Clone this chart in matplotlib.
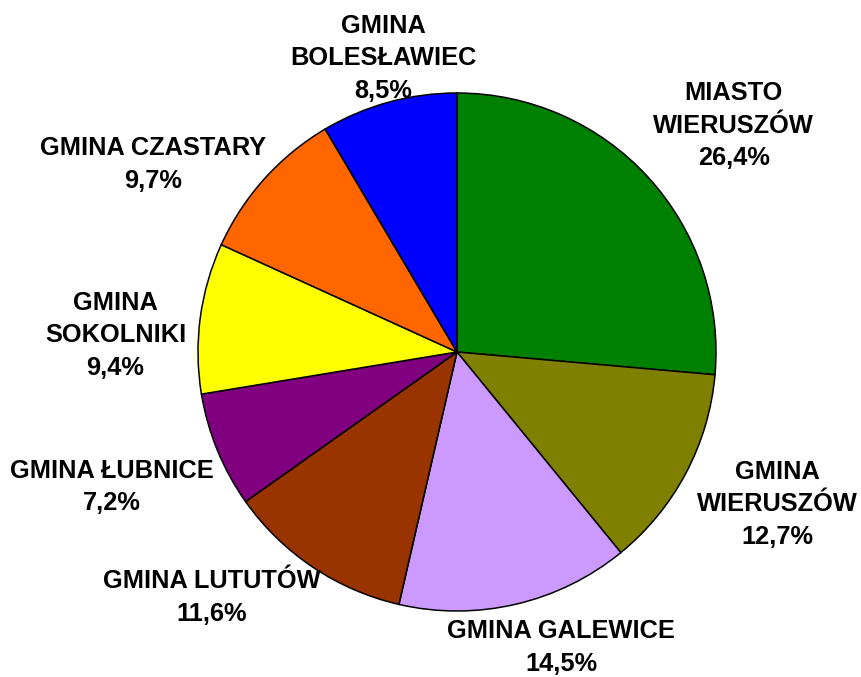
import numpy as np
import matplotlib
matplotlib.use("Agg")
import matplotlib.pyplot as plt

categories = ["MIASTO\nWIERUSZÓW", "GMINA\nWIERUSZÓW", "GMINA GALEWICE", "GMINA LUTUTÓW",
              "GMINA ŁUBNICE", "GMINA\nSOKOLNIKI", "GMINA CZASTARY", "GMINA\nBOLESŁAWIEC"]
values = [26.4, 12.7, 14.5, 11.6, 7.2, 9.4, 9.7, 8.5]
colors = ["#008000", "#808000", "#CC99FF", "#993300", "#800080", "#FFFF00", "#FF6600", "#0000FF"]

# label placement style (angle in degrees, distance in pie radii)
label_angles = [39.3, -25.4, -70.6, -135.0, -158.6, 177.2, 148.4, 104.1]
label_dist = [1.38, 1.37, 1.21, 1.34, 1.43, 1.32, 1.38, 1.17]

W, H = 861, 677
cx, cy, R = 457, 352, 259
fig = plt.figure(figsize=(W / 100, H / 100), dpi=100)
ax = fig.add_axes([(cx - R) / W, (H - cy - R) / H, 2 * R / W, 2 * R / H])
ax.pie(values, colors=colors, startangle=90, counterclock=False,
       wedgeprops=dict(edgecolor="black", linewidth=1.1))
ax.set_xlim(-1, 1)
ax.set_ylim(-1, 1)
ax.set_aspect("equal")
ax.axis("off")

for cat, v, a, d in zip(categories, values, label_angles, label_dist):
    t = np.deg2rad(a)
    txt = f"{cat}\n{v:.1f}%".replace(".", ",")
    ax.text(d * np.cos(t), d * np.sin(t), txt, ha="center", va="center",
            family="Liberation Sans", fontweight="bold", fontsize=18.3,
            linespacing=1.45, clip_on=False)

fig.savefig("out.png", dpi=100)
